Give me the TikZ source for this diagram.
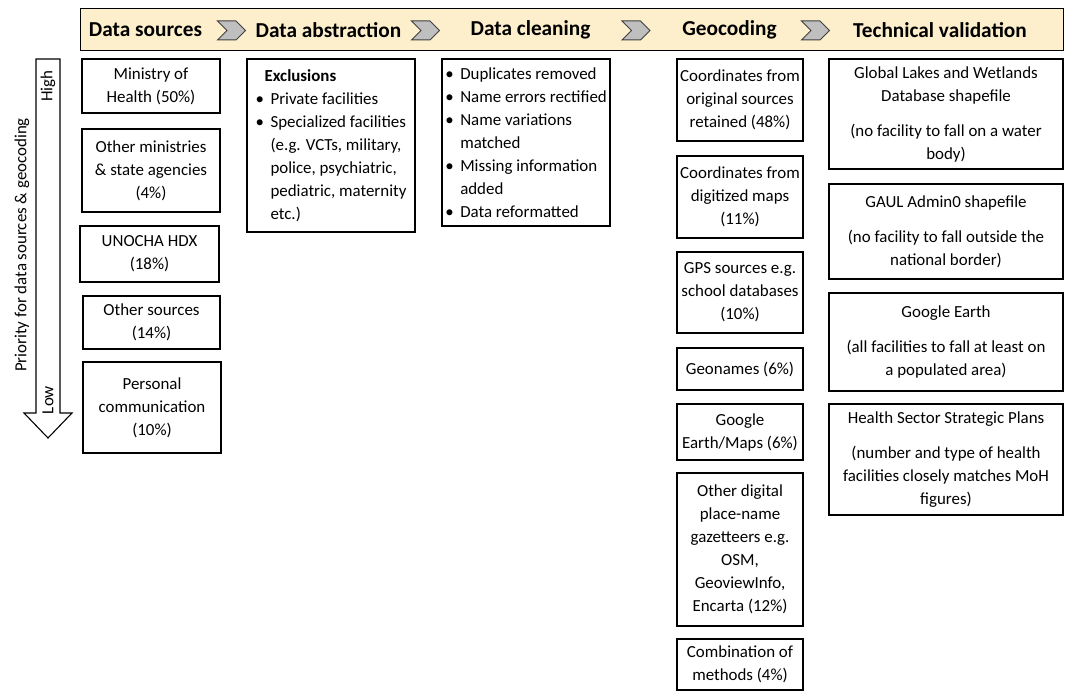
\documentclass[tikz,border=0pt]{standalone}
\usepackage{fontspec}
\setmainfont{Carlito}
\usetikzlibrary{shapes.symbols}
\definecolor{bandfill}{RGB}{253,239,204}
\definecolor{chevfill}{RGB}{191,191,191}
\definecolor{chevline}{RGB}{64,64,64}
\newcommand{\bul}{\makebox[15pt][l]{\textbullet}}
\newcommand{\ind}{\hspace*{15pt}}

\begin{document}
\begin{tikzpicture}[x=1pt,y=-1pt,
	every node/.style={font=\fontsize{16.9}{23}\selectfont,inner sep=0pt},
	box/.style={draw,line width=1.2pt,align=center},
	head/.style={font=\fontsize{21.3}{25}\selectfont\bfseries},
	chev/.style={signal,signal from=west,signal to=east,draw=chevline,fill=chevfill,line width=1pt,minimum width=28,minimum height=19}]
		\useasboundingbox (0,0) rectangle (1068,693);
		\node[draw,line width=1pt,fill=bandfill,minimum width=983,minimum height=42] (band) at (571.5,30) {};
		\node[head] (hsrc) at (145.5,30) {Data sources};
		\node[chev] (c1) at (231.5,30.5) {};
		\node[head] (habs) at (328.5,30) {Data abstraction};
		\node[chev] (c2) at (425.5,30.5) {};
		\node[head] (hcln) at (530.5,30) {Data cleaning};
		\node[chev] (c3) at (636,30.5) {};
		\node[head] (hgeo) at (729.5,30) {Geocoding};
		\node[chev] (c4) at (815.5,30.5) {};
		\node[head] (hval) at (940,30) {Technical validation};
		\draw[line width=1.1pt] (36,59) -- (60,59) -- (60,413) -- (72,413) -- (48,438) -- (24,413) -- (36,413) -- cycle;
		\node[rotate=90] (high) at (48,86) {High};
		\node[rotate=90] (low) at (48,400) {Low};
		\node[rotate=90] (prio) at (22,245) {Priority for data sources \& geocoding};
		\node[box,minimum width=138,minimum height=54] (moh) at (151,86) {Ministry of\\Health (50\%)};
		\node[box,minimum width=138,minimum height=83] (othmin) at (151,170.5) {Other ministries\\\& state agencies\\(4\%)};
		\node[box,minimum width=139,minimum height=56] (unocha) at (149.5,254) {UNOCHA HDX\\(18\%)};
		\node[box,minimum width=137,minimum height=53] (othsrc) at (151.5,322.5) {Other sources\\(14\%)};
		\node[box,minimum width=138,minimum height=91] (pers) at (152,407.5) {Personal\\communication\\(10\%)};
		\node[box,align=left,minimum width=168,minimum height=173] (excl) at (331,145.5) {\hspace*{9pt}\textbf{Exclusions}\\\bul Private facilities\\\bul Specialized facilities\\\ind(e.g. VCTs, military,\\\ind police, psychiatric,\\\ind pediatric, maternity\\\ind etc.)};
		\node[box,align=left,minimum width=168,minimum height=167] (clean) at (526,142.5) {\bul Duplicates removed\\\bul Name errors rectified\\\bul Name variations\\\ind matched\\\bul Missing information\\\ind added\\\bul Data reformatted};
		\node[box,minimum width=126,minimum height=82] (g1) at (740,100) {Coordinates from\\original sources\\retained (48\%)};
		\node[box,minimum width=126,minimum height=82] (g2) at (740,197) {Coordinates from\\digitized maps\\(11\%)};
		\node[box,minimum width=126,minimum height=81] (g3) at (740,292.5) {GPS sources e.g.\\school databases\\(10\%)};
		\node[box,minimum width=126,minimum height=42] (g4) at (740,369) {Geonames (6\%)};
		\node[box,minimum width=126,minimum height=56] (g5) at (740,432) {Google\\Earth/Maps (6\%)};
		\node[box,minimum width=126,minimum height=153] (g6) at (740,549.5) {Other digital\\place-name\\gazetteers e.g.\\OSM,\\GeoviewInfo,\\Encarta (12\%)};
		\node[box,minimum width=126,minimum height=51] (g7) at (740,664.5) {Combination of\\methods (4\%)};
		\node[box,minimum width=234,minimum height=110] (v1) at (946,114) {Global Lakes and Wetlands\\Database shapefile\\[12pt](no facility to fall on a water\\body)};
		\node[box,minimum width=234,minimum height=95] (v2) at (946,231.5) {GAUL Admin0 shapefile\\[12pt](no facility to fall outside the\\national border)};
		\node[box,minimum width=234,minimum height=98] (v3) at (946,342) {Google Earth\\[12pt](all facilities to fall at least on\\a populated area)};
		\node[box,minimum width=234,minimum height=111] (v4) at (946,459.5) {Health Sector Strategic Plans\\[12pt](number and type of health\\facilities closely matches MoH\\figures)};
\end{tikzpicture}
\end{document}
